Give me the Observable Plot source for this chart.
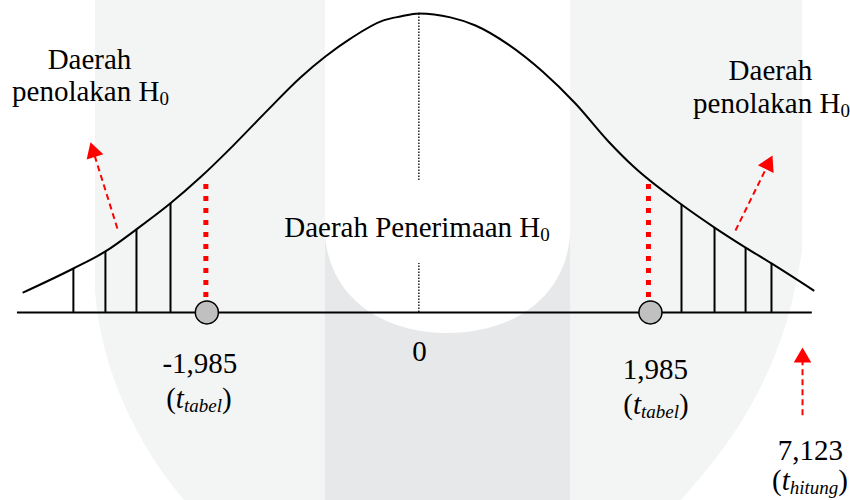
<!DOCTYPE html>
<html><head><meta charset="utf-8">
<script src="https://cdn.jsdelivr.net/npm/d3@7"></script>
<script src="https://cdn.jsdelivr.net/npm/@observablehq/plot@0.6"></script>
<style>
body{margin:0;background:#fff;}
#wrap{position:relative;width:850px;height:500px;overflow:hidden;}
#wm{position:absolute;left:0;top:0;}
#chart{position:absolute;left:0;top:0;}
#chart svg text{font-family:"Liberation Serif","Times New Roman",serif !important;}
</style></head><body>
<div id="wrap">
<svg id="wm" width="850" height="500" aria-hidden="true">
 <path d="M95,-1 L95,290 C100,370 140,450 185,501 L680,501 C735,440 785,370 802,250 L802,-1 Z" fill="#f3f4f4"/>
 <rect x="325" y="0" width="245" height="500" fill="#e7e8e9"/>
 <path d="M325,-1 L325,235 C330,300 385,333 447,333 C510,333 565,300 570,235 L570,-1 Z" fill="#ffffff"/>
</svg>
<div id="chart"></div>
</div>
<script>
// Bell curve (x in standard-deviation units, y relative to peak)
const curveX = [-2.382, -2.081, -1.888, -1.701, -1.496, -1.316, -1.117, -0.912, -0.713, -0.563, -0.412, -0.213, -0.111, 0, 0.190, 0.341, 0.540, 0.745, 0.943, 1.142, 1.293, 1.582, 1.781, 1.968, 2.124, 2.377];
const curveY = [0.067, 0.147, 0.204, 0.278, 0.365, 0.452, 0.559, 0.676, 0.786, 0.856, 0.916, 0.977, 0.990, 1, 0.987, 0.960, 0.896, 0.806, 0.699, 0.572, 0.488, 0.361, 0.284, 0.217, 0.164, 0.074];

// Hatching of the rejection regions
const hatchX = [-2.081, -1.888, -1.701, -1.496, 1.582, 1.781, 1.968, 2.124];
const hatchY = [0.147, 0.204, 0.278, 0.365, 0.361, 0.284, 0.217, 0.164];

// Critical values (t tabel)
const critX = [-1.277, 1.395];
const critLineX = [-1.283, 1.383];
const critLineFrom = 0.05;
const critLineTo = 0.431;

// Centre dotted line segments (gap for the label)
const centerSegFrom = [0, 0.441];
const centerSegTo = [0.164, 1];

// Axis extent
const axisFrom = -2.418;
const axisTo = 2.370;

// Arrows (tail -> tip)
const arrowX1 = [-1.816, 1.907, 2.311];
const arrowY1 = [0.281, 0.274, -0.344];
const arrowX2 = [-1.978, 2.130, 2.311];
const arrowY2 = [0.569, 0.525, -0.117];

// Labels
const labelText = ["Daerah", "penolakan H_{0}", "Daerah", "penolakan H_{0}", "Daerah Penerimaan H_{0}", "-1,985", "(*t*_{*tabel*})", "0", "1,985", "(*t*_{*tabel*})", "7,123", "(*t*_{*hitung*})"];
const labelX = [-1.984, -1.978, 2.118, 2.124, -0.011, -1.319, -1.325, 0.004, 1.425, 1.428, 2.359, 2.356];
const labelY = [0.816, 0.709, 0.779, 0.666, 0.251, -0.204, -0.321, -0.161, -0.221, -0.338, -0.495, -0.595];

const W = 850, H = 500;
const xDomain = [-2.52, 2.60], yDomain = [-0.629, 1.0435];
const X = d3.scaleLinear(xDomain, [0, W]);
const Y = d3.scaleLinear(yDomain, [H, 0]);

const curve = curveX.map((x, i) => ({x, y: curveY[i]}));
const hatch = hatchX.map((x, i) => ({x, y: hatchY[i]}));
const centerSegs = centerSegFrom.map((a, i) => ({y1: a, y2: centerSegTo[i]}));
const labels = labelText.map((t, i) => ({t, x: labelX[i], y: labelY[i]}));

const R = 6.5; // triangle head "radius"
const tipOff = Math.sqrt(Math.PI * R * R / (3 * Math.sqrt(3))) * 2;
const arrows = arrowX1.map((x1, i) => {
  const px1 = X(x1), py1 = Y(arrowY1[i]), px2 = X(arrowX2[i]), py2 = Y(arrowY2[i]);
  const dx = px2 - px1, dy = py2 - py1, L = Math.hypot(dx, dy), ux = dx / L, uy = dy / L;
  return {
    x1, y1: arrowY1[i],
    x2: X.invert(px2 - ux * 12), y2: Y.invert(py2 - uy * 12),
    hx: X.invert(px2 - ux * tipOff), hy: Y.invert(py2 - uy * tipOff),
    rot: Math.atan2(dx, -dy) * 180 / Math.PI
  };
});

const plot = Plot.plot({
  width: W, height: H, margin: 0,
  x: {domain: xDomain, axis: null},
  y: {domain: yDomain, axis: null},
  style: {background: "transparent", overflow: "visible"},
  marks: [
    Plot.ruleX(hatch, {x: "x", y1: 0, y2: "y", stroke: "black", strokeWidth: 2}),
    Plot.line(curve, {x: "x", y: "y", curve: "monotone-x", stroke: "black", strokeWidth: 2}),
    Plot.ruleY([0], {x1: axisFrom, x2: axisTo, stroke: "black", strokeWidth: 2}),
    Plot.ruleX(centerSegs, {x: 0, y1: "y1", y2: "y2", stroke: "black", strokeWidth: 1.3, strokeDasharray: "1.5,1.5"}),
    Plot.ruleX(critLineX, {x: d => d, y1: critLineFrom, y2: critLineTo, stroke: "#ff0000", strokeWidth: 5, strokeDasharray: "5,7"}),
    Plot.dot(critX, {x: d => d, y: 0, r: 11.5, fill: "#c0c0c0", stroke: "black", strokeWidth: 1.5}),
    Plot.link(arrows, {x1: "x1", y1: "y1", x2: "x2", y2: "y2", stroke: "#ff0000", strokeWidth: 2, strokeDasharray: "6,4"}),
    Plot.dot(arrows, {x: "hx", y: "hy", symbol: "triangle", r: R, fill: "#ff0000", stroke: "none", rotate: "rot"}),
    Plot.text(labels, {x: "x", y: "y", text: "t", fontFamily: "Liberation Serif", fontSize: 29, lineAnchor: "bottom", textAnchor: "middle", fill: "black"})
  ]
});

// rich text: *italic*, _{subscript}
const NS = "http://www.w3.org/2000/svg";
plot.querySelectorAll("text").forEach(el => {
  const s = el.textContent;
  if (!/[*_]/.test(s)) return;
  el.textContent = "";
  const parts = s.split(/(\*[^*]+\*|_\{[^}]+\})/).filter(Boolean);
  let shifted = false;
  for (const p of parts) {
    let c = p, italic = false, sub = false;
    if (c.startsWith("_{")) { sub = true; c = c.slice(2, -1); }
    if (c.length > 1 && c.startsWith("*") && c.endsWith("*")) { italic = true; c = c.slice(1, -1); }
    const ts = document.createElementNS(NS, "tspan");
    if (italic) ts.setAttribute("font-style", "italic");
    if (sub) { ts.setAttribute("font-size", "19"); ts.setAttribute("dy", "4"); shifted = true; }
    else if (shifted) { ts.setAttribute("dy", "-4"); shifted = false; }
    ts.textContent = c;
    el.appendChild(ts);
  }
});

document.getElementById("chart").appendChild(plot);
</script>
</body></html>
